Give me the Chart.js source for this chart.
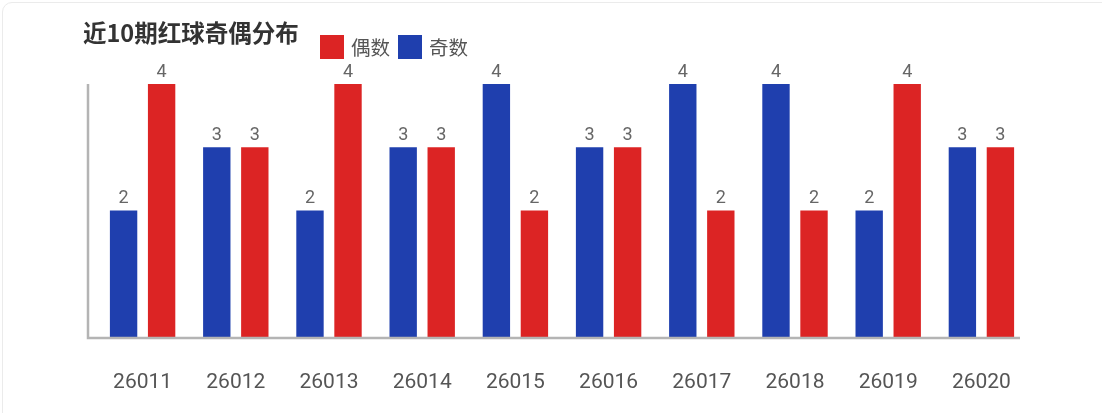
<!DOCTYPE html>
<html>
<head>
<meta charset="utf-8">
<script src="https://cdn.jsdelivr.net/npm/chart.js@4"></script>
<style>
    body { margin: 0; background: #fff; overflow: hidden; }
    .card {
        position: absolute; left: 2px; top: 2px; width: 1130px; height: 440px;
        border: 1px solid #ebebeb; border-radius: 10px; box-sizing: border-box;
    }
    #title {
        position: absolute; left: 83px; top: 15px;
        font: bold 23.5px "Noto Sans CJK SC", sans-serif; color: #333;
    }
    #legend {
        position: absolute; left: 320px; top: 32px; display: flex; align-items: center;
        font: 19.5px "Noto Sans CJK SC", sans-serif; color: #555;
    }
    #legend span.box { display: inline-block; width: 24px; height: 24px; margin-right: 7px; }
    #legend span.txt { margin-right: 8px; }
    canvas { position: absolute; left: 0; top: 0; }
</style>
</head>
<body>
<div class="card"></div>
<canvas id="parityChart" width="1102" height="413"></canvas>
<div id="title">近10期红球奇偶分布</div>
<div id="legend"></div>
<script>
const periods = ['26011', '26012', '26013', '26014', '26015', '26016', '26017', '26018', '26019', '26020'];
const oddCounts = [2, 3, 2, 3, 4, 3, 4, 4, 2, 3];
const evenCounts = [4, 3, 4, 3, 2, 3, 2, 2, 4, 3];
const yMax = 4;

// grey axis lines, drawn a little left of the bars like the original
const axisLines = {
    id: 'axisLines',
    afterDraw(chart) {
        const { ctx, chartArea } = chart;
        const shift = 8;
        ctx.save();
        ctx.strokeStyle = '#b4b4b4';
        ctx.lineWidth = 2.5;
        ctx.beginPath();
        ctx.moveTo(chartArea.left - shift, chartArea.top);
        ctx.lineTo(chartArea.left - shift, chartArea.bottom + 1);
        ctx.lineTo(chartArea.right - shift, chartArea.bottom + 1);
        ctx.stroke();
        ctx.restore();
    }
};

// value above each bar
const valueLabels = {
    id: 'valueLabels',
    afterDatasetsDraw(chart) {
        const ctx = chart.ctx;
        ctx.save();
        ctx.font = '18px Roboto';
        ctx.fillStyle = '#666';
        ctx.textAlign = 'center';
        ctx.textBaseline = 'bottom';
        chart.data.datasets.forEach((ds, i) => {
            chart.getDatasetMeta(i).data.forEach((bar, j) => {
                ctx.fillText(ds.data[j], bar.x, bar.y - 3);
            });
        });
        ctx.restore();
    }
};

const ctx = document.getElementById('parityChart').getContext('2d');
const chart = new Chart(ctx, {
    type: 'bar',
    data: {
        labels: periods,
        datasets: [
            { label: '奇数', data: oddCounts, backgroundColor: '#1f3fae' },
            { label: '偶数', data: evenCounts, backgroundColor: '#dc2424' }
        ]
    },
    options: {
        responsive: false,
        animation: false,
        devicePixelRatio: 1,
        categoryPercentage: 0.816,
        barPercentage: 0.72,
        layout: { padding: { left: 96, right: 74, top: 84, bottom: 0 } },
        plugins: {
            legend: { display: false },
            title: { display: false },
            tooltip: { enabled: false }
        },
        scales: {
            x: {
                grid: { display: false, drawTicks: false },
                border: { display: false },
                ticks: { color: '#555', font: { family: 'Roboto', size: 21 }, padding: 33 },
                afterFit(scale) { scale.height = 76; }
            },
            y: {
                display: false,
                min: 0,
                max: yMax
            }
        }
    },
    plugins: [axisLines, valueLabels]
});

// legend: even first, then odd
const legendBox = document.getElementById('legend');
chart.data.datasets.slice().reverse().forEach(ds => {
    legendBox.innerHTML += '<span class="box" style="background:' + ds.backgroundColor + '"></span>' +
        '<span class="txt">' + ds.label + '</span>';
});
</script>
</body>
</html>
